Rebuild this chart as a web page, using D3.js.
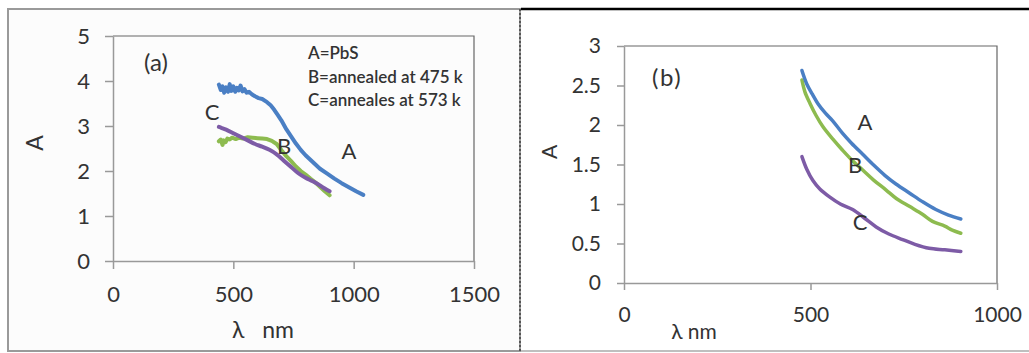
<!DOCTYPE html>
<html>
<head>
<meta charset="utf-8">
<script src="https://cdn.jsdelivr.net/npm/d3@7"></script>
<style>
  body { margin: 0; background: #fff; }
  text { font-family: Lato, "Open Sans", sans-serif; fill: #333; }
</style>
</head>
<body>
<script>
// panel (a) data: wavelength (nm) and absorbance
const aLambdaA = [440, 448, 455, 462, 470, 478, 485, 492, 500, 508, 515, 522, 530, 538, 546, 555, 565, 578, 590, 605, 620, 640, 655, 670, 685, 700, 720, 740, 760, 780, 800, 830, 860, 890, 920, 950, 980, 1010, 1040];
const aValuesA = [3.92, 3.80, 3.88, 3.74, 3.86, 3.76, 3.93, 3.78, 3.88, 3.76, 3.85, 3.79, 3.90, 3.77, 3.82, 3.74, 3.76, 3.70, 3.66, 3.62, 3.60, 3.53, 3.46, 3.36, 3.24, 3.12, 2.93, 2.77, 2.61, 2.47, 2.35, 2.20, 2.05, 1.94, 1.83, 1.73, 1.64, 1.55, 1.47];
const aLambdaB = [440, 448, 455, 460, 468, 475, 485, 495, 510, 525, 540, 560, 580, 600, 620, 640, 660, 680, 700, 720, 740, 760, 780, 800, 820, 840, 860, 880, 900];
const aValuesB = [2.66, 2.70, 2.58, 2.68, 2.64, 2.72, 2.70, 2.74, 2.71, 2.74, 2.72, 2.75, 2.74, 2.73, 2.72, 2.71, 2.67, 2.60, 2.46, 2.33, 2.22, 2.10, 2.00, 1.92, 1.83, 1.75, 1.65, 1.55, 1.46];
const aLambdaC = [440, 450, 470, 500, 530, 560, 590, 620, 650, 680, 710, 740, 770, 800, 830, 860, 880, 900];
const aValuesC = [2.98, 2.96, 2.92, 2.84, 2.76, 2.68, 2.60, 2.54, 2.47, 2.37, 2.23, 2.09, 1.95, 1.85, 1.77, 1.68, 1.61, 1.55];

// panel (b) data
const bLambdaA = [477, 490, 505, 520, 540, 560, 585, 610, 640, 670, 700, 730, 765, 800, 836, 870, 903];
const bValuesA = [2.69, 2.52, 2.39, 2.27, 2.15, 2.05, 1.90, 1.77, 1.63, 1.49, 1.36, 1.25, 1.14, 1.03, 0.93, 0.86, 0.81];
const bLambdaB = [477, 485, 499, 515, 533, 560, 586, 610, 640, 670, 702, 730, 765, 800, 827, 860, 880, 903];
const bValuesB = [2.57, 2.42, 2.27, 2.12, 1.98, 1.82, 1.68, 1.56, 1.43, 1.30, 1.18, 1.07, 0.97, 0.87, 0.78, 0.72, 0.67, 0.63];
const bLambdaC = [477, 490, 506, 525, 551, 580, 613, 645, 676, 710, 747, 780, 818, 860, 903];
const bValuesC = [1.60, 1.44, 1.30, 1.19, 1.09, 1.00, 0.93, 0.82, 0.71, 0.62, 0.55, 0.49, 0.44, 0.42, 0.40];

const aXTicks = [0, 500, 1000, 1500];
const aYTicks = [0, 1, 2, 3, 4, 5];
const bXTicks = [0, 500, 1000];
const bYTicks = [0, 0.5, 1, 1.5, 2, 2.5, 3];
const legendLines = ["A=PbS", "B=annealed at 475 k", "C=anneales at 573 k"];

const colors = { A: "#4a7fc4", B: "#8dbb4f", C: "#7d5ba6" };

const svg = d3.select("body").append("svg")
  .attr("width", 1029)
  .attr("height", 353);

// outer frames
svg.append("rect").attr("x", 8).attr("y", 9).attr("width", 512).attr("height", 342)
  .attr("fill", "#fcfcfc").attr("stroke", "#9a9a9a").attr("stroke-width", 2);
svg.append("line").attr("x1", 520).attr("x2", 520).attr("y1", 9).attr("y2", 353)
  .attr("stroke", "#555").attr("stroke-width", 2).attr("stroke-dasharray", "2,2");
svg.append("line").attr("x1", 521).attr("x2", 1029).attr("y1", 9).attr("y2", 9)
  .attr("stroke", "#000").attr("stroke-width", 2.5);
svg.append("line").attr("x1", 521).attr("x2", 1029).attr("y1", 351).attr("y2", 351)
  .attr("stroke", "#aaa").attr("stroke-width", 1.5);

function drawPanel(opt) {
  const x = d3.scaleLinear().domain(opt.xDomain).range(opt.xRange);
  const y = d3.scaleLinear().domain(opt.yDomain).range(opt.yRange);
  const g = svg.append("g");

  // plot frame (top and right)
  g.append("path")
    .attr("d", "M" + x.range()[0] + "," + y.range()[1] + "H" + x.range()[1] + "V" + y.range()[0])
    .attr("fill", "none").attr("stroke", "#666").attr("stroke-width", 1.2);

  const xAxis = d3.axisBottom(x).tickValues(opt.xTicks).tickSize(opt.tick).tickSizeOuter(0)
    .tickPadding(opt.xPad).tickFormat(d3.format("d"));
  const yAxis = d3.axisLeft(y).tickValues(opt.yTicks).tickSize(opt.tick).tickSizeOuter(0)
    .tickPadding(opt.yPad).tickFormat(d => String(d));

  const ax = g.append("g").attr("transform", "translate(0," + y.range()[0] + ")").call(xAxis);
  const ay = g.append("g").attr("transform", "translate(" + x.range()[0] + ",0)").call(yAxis);
  [ax, ay].forEach(a => {
    a.select(".domain").attr("stroke", "#999").attr("stroke-width", 1.5);
    a.selectAll(".tick line").attr("stroke", "#999").attr("stroke-width", 1.5);
    a.selectAll("text").attr("font-size", opt.tickFont).attr("fill", "#333")
      .style("font-family", "Lato, sans-serif");
  });

  const line = d3.line().x(d => x(d[0])).y(d => y(d[1]));
  opt.series.forEach(s => {
    const pts = s.lam.map((l, i) => [l, s.val[i]]);
    g.append("path").datum(pts)
      .attr("d", line.curve(s.curve))
      .attr("fill", "none").attr("stroke", s.color).attr("stroke-width", opt.lineW)
      .attr("stroke-linejoin", "round").attr("stroke-linecap", "round");
  });

  return { x: x, y: y, g: g };
}

drawPanel({
  xDomain: [0, 1500], xRange: [113, 474],
  yDomain: [0, 5], yRange: [261, 36],
  xTicks: aXTicks, yTicks: aYTicks,
  tick: 8, xPad: 17, yPad: 15, tickFont: 22, lineW: 4,
  series: [
    { lam: aLambdaB, val: aValuesB, color: colors.B, curve: d3.curveLinear },
    { lam: aLambdaC, val: aValuesC, color: colors.C, curve: d3.curveCatmullRom },
    { lam: aLambdaA, val: aValuesA, color: colors.A, curve: d3.curveLinear }
  ]
});

drawPanel({
  xDomain: [0, 1000], xRange: [624, 997],
  yDomain: [0, 3], yRange: [283, 46],
  xTicks: bXTicks, yTicks: bYTicks,
  tick: 7, xPad: 17, yPad: 16, tickFont: 21, lineW: 3.5,
  series: [
    { lam: bLambdaC, val: bValuesC, color: colors.C, curve: d3.curveCatmullRom },
    { lam: bLambdaB, val: bValuesB, color: colors.B, curve: d3.curveCatmullRom },
    { lam: bLambdaA, val: bValuesA, color: colors.A, curve: d3.curveCatmullRom }
  ]
});

// axis titles
svg.append("text").attr("x", 263).attr("y", 338).attr("text-anchor", "middle")
  .attr("font-size", 23).style("white-space", "pre").text("λ   nm");
svg.append("text").attr("transform", "translate(43,143) rotate(-90)").attr("text-anchor", "middle")
  .attr("font-size", 23).text("A");
svg.append("text").attr("x", 694).attr("y", 339).attr("text-anchor", "middle")
  .attr("font-size", 21).text("λ nm");
svg.append("text").attr("transform", "translate(557,152) rotate(-90)").attr("text-anchor", "middle")
  .attr("font-size", 21).text("A");

// panel tags
svg.append("text").attr("x", 144).attr("y", 71).attr("font-size", 24).text("(a)");
svg.append("text").attr("x", 652).attr("y", 86).attr("font-size", 24).attr("letter-spacing", 1.5).text("(b)");

// legend text in panel (a)
svg.selectAll(".legend").data(legendLines).enter().append("text")
  .attr("class", "legend")
  .attr("x", 308)
  .attr("y", (d, i) => 59 + i * 23.5)
  .attr("font-size", 17)
  .attr("font-weight", 600)
  .attr("fill", "#222")
  .text(d => d);

// curve labels
const aLabels = [["C", 212, 120], ["B", 284, 154], ["A", 349, 159]];
const bLabels = [["A", 865, 130], ["B", 855, 173], ["C", 860, 230]];
aLabels.concat(bLabels).forEach(l => {
  svg.append("text").attr("x", l[1]).attr("y", l[2]).attr("text-anchor", "middle")
    .attr("font-size", 22).text(l[0]);
});
</script>
</body>
</html>
